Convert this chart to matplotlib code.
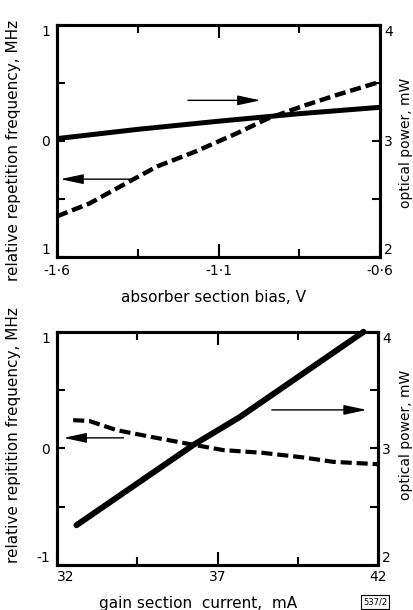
"""
two-panel figure: repetition frequency and optical power
vs absorber bias (top) and gain current (bottom)
"""
import matplotlib
matplotlib.use("Agg")
import matplotlib.pyplot as plt
from matplotlib.ticker import FixedLocator

plt.rcParams['font.family'] = ['DejaVu Sans']
plt.rcParams['font.size'] = 10
plt.rcParams['lines.scale_dashes'] = False

# top panel: absorber section bias, V
bias_freq = [-1.6, -1.5, -1.37, -1.29, -1.17, -1.04, -0.95, -0.84, -0.73, -0.6]
freq_top = [-0.65, -0.54, -0.34, -0.22, -0.09, 0.07, 0.19, 0.30, 0.40, 0.51]
bias_pow = [-1.6, -1.35, -1.1, -0.85, -0.6]
power_top = [3.02, 3.10, 3.17, 3.235, 3.29]

# bottom panel: gain section current, mA
cur_freq = [32.5, 33.0, 33.86, 34.9, 36.14, 37.18, 38.43, 39.67, 40.61, 42.0]
freq_bot = [0.242, 0.235, 0.156, 0.10, 0.036, -0.015, -0.039, -0.078, -0.116, -0.136]
cur_pow = [32.6, 36.25, 37.7, 41.55]
power_bot = [2.34, 3.03, 3.27, 4.0]

top_xticks = [-1.6, -1.1, -0.6]
top_xlabels = ['-1·6', '-1·1', '-0·6']
top_xminor = [-1.35, -0.85]
bot_xticks = [32, 37, 42]
bot_xlabels = ['32', '37', '42']
bot_xminor = [34.5, 39.5]
top_ylabels = ['1', '0', '1']
bot_ylabels = ['-1', '0', '1']

fig = plt.figure(figsize=(4.14, 6.10), dpi=100)
ax1 = fig.add_axes([0.138, 0.579, 0.780, 0.380])
ax2 = fig.add_axes([0.138, 0.074, 0.775, 0.382])

dash = (0, (8, 3.5))
arrow = dict(arrowstyle='-|>,head_length=1.4,head_width=0.3',
             lw=1, color='k', shrinkA=0, shrinkB=0)
lab = 11


def style(ax, axr, xt, xl, xm, yl, xpad):
    for a in (ax, axr):
        for s in a.spines.values():
            s.set_linewidth(2.2)
    ax.set_ylim(-1, 1)
    axr.set_ylim(2, 4)
    ax.xaxis.set_major_locator(FixedLocator(xt))
    ax.set_xticklabels(xl)
    ax.xaxis.set_minor_locator(FixedLocator(xm))
    ax.yaxis.set_major_locator(FixedLocator([-1, 0, 1]))
    ax.set_yticklabels(yl)
    ax.yaxis.set_minor_locator(FixedLocator([-0.5, 0.5]))
    axr.yaxis.set_major_locator(FixedLocator([2, 3, 4]))
    axr.set_yticklabels(['2', '3', '4'])
    axr.yaxis.set_minor_locator(FixedLocator([2.5, 3.5]))
    ax.tick_params(axis='x', which='both', direction='in', top=True,
                   width=1.5, pad=xpad)
    ax.tick_params(axis='x', which='major', length=9.5)
    ax.tick_params(axis='x', which='minor', length=6)
    ax.tick_params(axis='y', which='both', direction='in', left=True,
                   right=False, length=6, width=1.5, pad=5)
    axr.tick_params(axis='y', which='both', direction='in', length=6,
                    width=1.5, pad=3)
    # end labels sit inside the frame height
    for a in (ax, axr):
        labs = a.get_yticklabels()
        labs[0].set_va('bottom')
        labs[-1].set_va('top')


# ---- top panel
ax1r = ax1.twinx()
ax1.plot(bias_freq, freq_top, color='k', lw=3.2, ls=dash,
         dash_capstyle='butt', clip_on=False)
ax1r.plot(bias_pow, power_top, color='k', lw=3.6, solid_capstyle='butt',
          clip_on=False)
ax1.set_xlim(-1.6, -0.6)
style(ax1, ax1r, top_xticks, top_xlabels, top_xminor, top_ylabels, 5)
ax1r.annotate('', xy=(-0.97, 3.35), xytext=(-1.195, 3.35), arrowprops=arrow)
ax1.annotate('', xy=(-1.59, -0.33), xytext=(-1.374, -0.33), arrowprops=arrow)
ax1.set_xlabel('absorber section bias, V', fontsize=lab)
ax1.xaxis.set_label_coords(0.485, -0.145)
ax1.set_ylabel('relative repetition frequency, MHz', fontsize=lab)
ax1.yaxis.set_label_coords(-0.113, 0.46)
ax1r.set_ylabel('optical power, mW', fontsize=10)
ax1r.yaxis.set_label_coords(1.059, 0.49)

# ---- bottom panel
ax2r = ax2.twinx()
ax2.plot(cur_freq, freq_bot, color='k', lw=3.0, ls=dash,
         dash_capstyle='butt', clip_on=False)
ax2r.plot(cur_pow, power_bot, color='k', lw=4.3, solid_capstyle='round',
          clip_on=False)
ax2.set_xlim(32, 42)
style(ax2, ax2r, bot_xticks, bot_xlabels, bot_xminor, bot_ylabels, 3.5)
ax2.get_xticklabels()[0].set_ha('left')
ax2r.annotate('', xy=(41.65, 3.33), xytext=(38.69, 3.33), arrowprops=arrow)
ax2.annotate('', xy=(32.2, 0.09), xytext=(34.07, 0.09), arrowprops=arrow)
ax2.set_xlabel('gain section  current,  mA', fontsize=lab)
ax2.xaxis.set_label_coords(0.44, -0.132)
ax2.set_ylabel('relative repitition frequency, MHz', fontsize=lab)
ax2.yaxis.set_label_coords(-0.113, 0.558)
ax2r.set_ylabel('optical power, mW', fontsize=10)
ax2r.yaxis.set_label_coords(1.066, 0.558)

fig.text(0.906, 0.013, '537/2', fontsize=6, ha='center', va='center',
         bbox=dict(boxstyle='square,pad=0.25', fc='white', ec='k', lw=0.8))

fig.savefig('out.png', dpi=100)
